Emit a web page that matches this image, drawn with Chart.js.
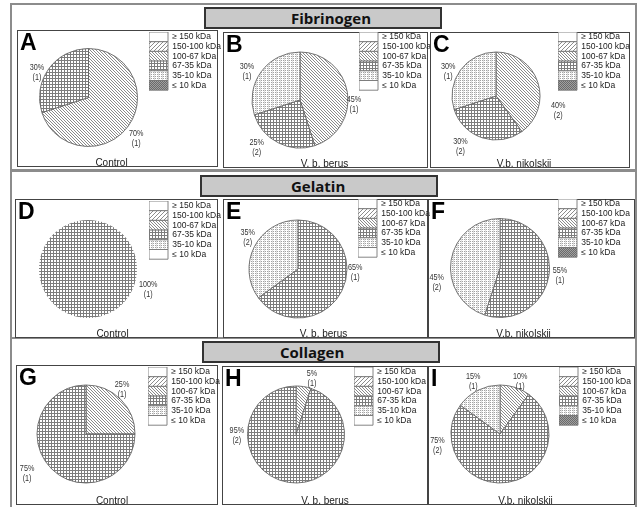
<!DOCTYPE html>
<html>
<head>
<meta charset="utf-8">
<script src="https://cdn.jsdelivr.net/npm/chart.js@4.4.1/dist/chart.umd.min.js"></script>
<style>
  body { margin: 0; width: 640px; height: 507px; background: #fff; position: relative; overflow: hidden; }
  .frame { position: absolute; border: 2px solid #8c8c8c; box-sizing: border-box; }
  .panel { position: absolute; border: 1px solid #444; box-sizing: border-box; }
  .title { position: absolute; border: 2px solid #333; background: #c9c9c9; box-sizing: border-box; }
  .title span { position: absolute; top: 0; font: bold 15px "Open Sans", sans-serif; color: #111; }
  canvas { position: absolute; }
</style>
</head>
<body>
<script>
/* DATA */
const categories = ["≥ 150 kDa", "150-100 kDa", "100-67 kDa", "67-35 kDa", "35-10 kDa", "≤ 10 kDa"];
const substrates = ["Fibrinogen", "Gelatin", "Collagen"];
const groups = ["Control", "V. b. berus", "V.b. nikolskii"];
const letters = ["A", "B", "C", "D", "E", "F", "G", "H", "I"];

// share of each band, %
const fibrinogenControl = [0, 0, 70, 30, 0, 0];
const fibrinogenBerus = [0, 0, 45, 25, 30, 0];
const fibrinogenNikolskii = [0, 0, 40, 30, 30, 0];
const gelatinControl = [0, 0, 0, 100, 0, 0];
const gelatinBerus = [0, 0, 0, 65, 35, 0];
const gelatinNikolskii = [0, 0, 0, 55, 45, 0];
const collagenControl = [0, 0, 25, 75, 0, 0];
const collagenBerus = [0, 0, 5, 95, 0, 0];
const collagenNikolskii = [0, 0, 10, 75, 15, 0];

// number of bands in brackets
const fibrinogenControlBands = [0, 0, 1, 1, 0, 0];
const fibrinogenBerusBands = [0, 0, 1, 2, 1, 0];
const fibrinogenNikolskiiBands = [0, 0, 2, 2, 1, 0];
const gelatinControlBands = [0, 0, 0, 1, 0, 0];
const gelatinBerusBands = [0, 0, 0, 1, 2, 0];
const gelatinNikolskiiBands = [0, 0, 0, 1, 2, 0];
const collagenControlBands = [0, 0, 1, 1, 0, 0];
const collagenBerusBands = [0, 0, 1, 2, 0, 0];
const collagenNikolskiiBands = [0, 0, 1, 2, 1, 0];

const panelValues = [fibrinogenControl, fibrinogenBerus, fibrinogenNikolskii,
  gelatinControl, gelatinBerus, gelatinNikolskii,
  collagenControl, collagenBerus, collagenNikolskii];
const panelBands = [fibrinogenControlBands, fibrinogenBerusBands, fibrinogenNikolskiiBands,
  gelatinControlBands, gelatinBerusBands, gelatinNikolskiiBands,
  collagenControlBands, collagenBerusBands, collagenNikolskiiBands];

/* LAYOUT */
const frames = [[10, 3, 627, 168], [10, 170, 627, 169], [10, 337, 627, 172]];
const titleBoxes = [[204, 7, 238, 22, 87], [200, 175, 238, 22, 91], [202, 341, 238, 22, 78]];
const boxes = [[17, 30, 201, 137], [223, 32, 205, 136], [430, 32, 200, 136],
  [15, 199, 203, 139], [223, 199, 205, 139], [428, 199, 207, 139],
  [16, 365, 202, 140], [222, 366, 206, 139], [428, 366, 207, 139]];
const pies = [[88.5, 97.5, 49], [300, 100, 48], [496, 96, 44],
  [88, 269, 49], [298, 269, 49], [500, 268, 49.5],
  [86, 434, 49], [296, 434.5, 48.5], [500, 434, 49]];
const legendAt = [[149, 32], [359, 32], [558, 32], [149, 201], [358, 199], [558, 199],
  [148, 367], [354, 367], [559, 367]];
const captionShift = [0, 5, 0, 2, 4, -2, 1, 6, 0];
const darkLowest = [true, false, true, false, false, true, false, false, true];
// label direction (deg clockwise from top) and distance in radii
const labelSpots = [
  [null, null, [131, 1.29], [296, 1.17], null, null],
  [null, null, [95, 1.13], [222, 1.35], [298, 1.25], null],
  [null, null, [103, 1.45], [215, 1.41], [297, 1.22], null],
  [null, null, null, [109, 1.3], null, null],
  [null, null, null, [94, 1.17], [302, 1.21], null],
  [null, null, null, [97, 1.22], [257, 1.31], null],
  [null, null, [39, 1.17], [236, 1.45], null, null],
  [null, null, [16, 1.19], [269, 1.22], null, null],
  [null, null, [21, 1.15], [259, 1.3], [333, 1.2], null]
];

const FONT = '"Liberation Sans", Arial, sans-serif';
const SPILL = 10; // canvas reaches this far left of its panel box

/* FRAMES & TITLES */
frames.forEach(([x, y, w, h]) => {
  const d = document.createElement("div");
  d.className = "frame";
  Object.assign(d.style, { left: x + "px", top: y + "px", width: w + "px", height: h + "px" });
  document.body.appendChild(d);
});
titleBoxes.forEach(([x, y, w, h, tx], i) => {
  const d = document.createElement("div");
  d.className = "title";
  Object.assign(d.style, { left: x + "px", top: y + "px", width: w + "px", height: h + "px" });
  const s = document.createElement("span");
  s.textContent = substrates[i];
  s.style.left = (tx - 2) + "px";
  s.style.lineHeight = (h - 4) + "px";
  d.appendChild(s);
  document.body.appendChild(d);
});

/* PATTERNS */
function tile(size, bg, paint) {
  const c = document.createElement("canvas");
  c.width = c.height = size;
  const g = c.getContext("2d");
  g.fillStyle = bg;
  g.fillRect(0, 0, size, size);
  for (let y = 0; y < size; y++)
    for (let x = 0; x < size; x++) {
      const col = paint(x, y);
      if (col) { g.fillStyle = col; g.fillRect(x, y, 1, 1); }
    }
  return c;
}
const tiles = {
  fwd: tile(4, "#fff", (x, y) => (x + y) % 4 === 3 && "#8c8c8c"),
  back: tile(3, "#fff", (x, y) => (x - y + 3) % 3 === 0 && "#8a8a8a"),
  grid: tile(3, "#fff", (x, y) => (x % 3 === 0 || y % 3 === 0) && "#7c7c7c"),
  dots: tile(4, "#fff", (x, y) => ((x + y) % 2 === 0 && y % 2 === 0) ? "#a2a2a2" : (x === 3 ? "#dedede" : null)),
  dark: tile(2, "#a0a0a0", (x, y) => (x + y) % 2 === 0 && "#6a6a6a")
};

/* PLUGINS */
const placeParts = {
  id: "placeParts",
  afterLayout(chart, args, o) {
    const pad = 2;
    chart.chartArea = {
      left: o.cx - o.r - pad, right: o.cx + o.r + pad,
      top: o.cy - o.r - pad, bottom: o.cy + o.r + pad,
      width: 2 * (o.r + pad), height: 2 * (o.r + pad)
    };
    const lg = chart.legend, w = lg.width, h = lg.height;
    lg.left = o.lx; lg.top = o.ly; lg.right = o.lx + w; lg.bottom = o.ly + h;
  }
};

const sliceLabels = {
  id: "sliceLabels",
  afterDatasetsDraw(chart, args, o) {
    const ctx = chart.ctx;
    const values = chart.data.datasets[0].data;
    const put = (t, x, y) => {
      ctx.save();
      ctx.translate(x, y);
      ctx.scale(0.85, 1);
      ctx.fillText(t, 0, 0);
      ctx.restore();
    };
    ctx.save();
    ctx.fillStyle = "#333";
    ctx.font = "8.5px " + FONT;
    ctx.textAlign = "center";
    ctx.textBaseline = "middle";
    chart.getDatasetMeta(0).data.forEach((arc, i) => {
      const spot = o.spots[i];
      if (!spot || !values[i]) return;
      const a = spot[0] * Math.PI / 180, d = arc.outerRadius * spot[1];
      const x = arc.x + Math.sin(a) * d, y = arc.y - Math.cos(a) * d;
      put(values[i] + "%", x, y - 5);
      put("(" + o.bands[i] + ")", x, y + 5);
    });
    ctx.fillStyle = "#000";
    ctx.font = "bold 23px " + FONT;
    ctx.textAlign = "left";
    ctx.textBaseline = "alphabetic";
    ctx.fillText(o.letter, SPILL + 3, 20);
    ctx.restore();
  }
};

/* CHARTS */
boxes.forEach(([x, y, w, h], i) => {
  const p = document.createElement("div");
  p.className = "panel";
  Object.assign(p.style, { left: x + "px", top: y + "px", width: w + "px", height: h + "px" });
  document.body.appendChild(p);

  const ox = x - SPILL;
  const cv = document.createElement("canvas");
  cv.width = w + 12 + SPILL;
  cv.height = h + 6;
  cv.style.left = ox + "px";
  cv.style.top = y + "px";
  document.body.appendChild(cv);
  const ctx = cv.getContext("2d");
  const pat = t => ctx.createPattern(tiles[t], "repeat");
  const fills = ["#ffffff", pat("fwd"), pat("back"), pat("grid"), pat("dots"),
    darkLowest[i] ? pat("dark") : "#ffffff"];

  const s = captionShift[i];
  const [cx, cy, r] = pies[i];
  const [lx, ly] = legendAt[i];

  new Chart(ctx, {
    type: "pie",
    data: {
      labels: categories,
      datasets: [{
        data: panelValues[i],
        backgroundColor: fills,
        borderColor: "#666",
        // a lone full slice gets no seam line
        borderWidth: c => c.raw >= 100 ? 0 : 0.9,
        radius: r,
        clip: false
      }]
    },
    options: {
      responsive: false,
      animation: false,
      events: [],
      layout: { padding: { left: s > 0 ? 2 * s : 0, right: s < 0 ? 14 - 2 * s : 14, top: 0, bottom: 4 } },
      plugins: {
        legend: {
          position: "right",
          align: "start",
          labels: {
            boxWidth: 19, boxHeight: 9.7, padding: 0, color: "#222", font: { size: 8.5, family: FONT },
            generateLabels: chart => Chart.controllers.pie.overrides.plugins.legend.labels.generateLabels(chart)
              .map(it => Object.assign(it, { strokeStyle: "#777", lineWidth: 0.9 }))
          }
        },
        title: {
          display: true,
          text: groups[i % 3],
          position: "bottom",
          padding: 0,
          color: "#222",
          font: { size: 10, weight: "normal", family: FONT }
        },
        tooltip: { enabled: false },
        placeParts: { cx: cx - ox, cy: cy - y, r, lx: lx - ox, ly: ly - y },
        sliceLabels: { spots: labelSpots[i], bands: panelBands[i], letter: letters[i] }
      }
    },
    plugins: [placeParts, sliceLabels]
  });
});
</script>
</body>
</html>
